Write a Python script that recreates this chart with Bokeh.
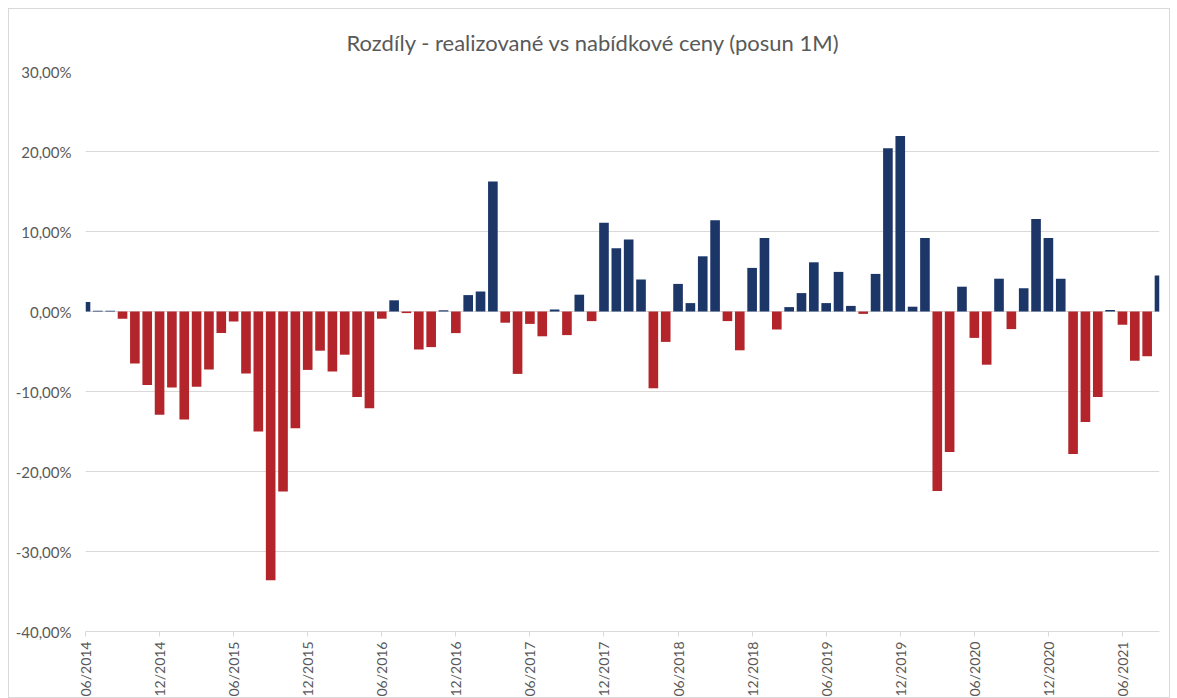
from bokeh.plotting import figure
from bokeh.models import Range1d, FixedTicker, ColumnDataSource
from bokeh.embed import file_html
from bokeh.resources import INLINE

# Monthly differences (realised vs offer prices, shift 1M), in %, from 06/2014
diff_pct = [
    1.2, 0.1, 0.1, -0.9, -6.5, -9.2, -12.9, -9.5, -13.5, -9.4,
    -7.25, -2.7, -1.25, -7.75, -15.0, -33.6, -22.5, -14.6, -7.3, -4.9,
    -7.5, -5.4, -10.7, -12.1, -0.9, 1.4, -0.2, -4.75, -4.45, 0.15,
    -2.7, 2.05, 2.5, 16.25, -1.4, -7.8, -1.55, -3.1, 0.25, -2.95,
    2.1, -1.2, 11.1, 7.9, 9.0, 4.0, -9.6, -3.8, 3.45, 1.05,
    6.9, 11.4, -1.2, -4.85, 5.45, 9.2, -2.25, 0.55, 2.3, 6.15,
    1.05, 4.95, 0.7, -0.3, 4.7, 20.4, 21.95, 0.6, 9.2, -22.45,
    -17.55, 3.1, -3.3, -6.65, 4.1, -2.2, 2.9, 11.55, 9.2, 4.1,
    -17.8, -13.8, -10.7, 0.2, -1.65, -6.15, -5.6, 4.5,
]

x_tick_pos = [0, 6, 12, 18, 24, 30, 36, 42, 48, 54, 60, 66, 72, 78, 84]
x_tick_labels = ["06/2014", "12/2014", "06/2015", "12/2015", "06/2016",
                 "12/2016", "06/2017", "12/2017", "06/2018", "12/2018",
                 "06/2019", "12/2019", "06/2020", "12/2020", "06/2021"]
y_ticks = [-40, -30, -20, -10, 0, 10, 20, 30]
y_tick_labels = ["-40,00%", "-30,00%", "-20,00%", "-10,00%", "0,00%",
                 "10,00%", "20,00%", "30,00%"]
title_text = "Rozdíly - realizované vs nabídkové ceny (posun 1M)"

BLUE = "#1c3668"
RED = "#b3252b"
GREY_TXT = "#595959"
GRID = "#d9d9d9"
FONT = "Lato"

src = ColumnDataSource(dict(
    x=list(range(len(diff_pct))),
    top=diff_pct,
    color=[BLUE if v >= 0 else RED for v in diff_pct],
))

p = figure(width=1162, height=690, output_backend="svg", toolbar_location=None,
           x_range=Range1d(0, 87), y_range=Range1d(-40, 30),
           title=title_text,
           min_border_left=76, min_border_right=12, min_border_top=62,
           min_border_bottom=59)
p.margin = (8, 0, 0, 8)
p.styles = {"border": "1px solid #d9d9d9"}

p.title.align = "left"
p.title.offset = 261
p.title.text_font = FONT
p.title.text_font_size = "22px"
p.title.text_font_style = "normal"
p.title.text_color = GREY_TXT
p.title.standoff = 31

p.vbar(x="x", top="top", bottom=0, width=0.78, color="color",
       line_color=None, source=src)

p.outline_line_color = None
p.xgrid.grid_line_color = None
p.ygrid.grid_line_color = GRID
p.ygrid.grid_line_width = 1

p.yaxis.ticker = FixedTicker(ticks=y_ticks)
p.yaxis.major_label_overrides = {t: l for t, l in zip(y_ticks, y_tick_labels)}
p.yaxis.axis_line_color = None
p.yaxis.major_tick_line_color = None
p.yaxis.minor_tick_line_color = None
p.yaxis.major_label_standoff = 8
p.yaxis.major_label_text_font = FONT
p.yaxis.major_label_text_font_size = "15px"
p.yaxis.major_label_text_color = GREY_TXT

p.xaxis.ticker = FixedTicker(ticks=x_tick_pos)
p.xaxis.major_label_overrides = {t: l for t, l in zip(x_tick_pos, x_tick_labels)}
p.xaxis.major_label_orientation = 1.5707963267948966
p.xaxis.axis_line_color = GRID
p.xaxis.major_tick_line_color = GRID
p.xaxis.major_tick_in = 0
p.xaxis.major_tick_out = 5
p.xaxis.minor_tick_line_color = None
p.xaxis.major_label_standoff = 5
p.xaxis.major_label_text_font = FONT
p.xaxis.major_label_text_font_size = "14px"
p.xaxis.major_label_text_color = GREY_TXT

open("out.html", "w").write(file_html(p, INLINE))
